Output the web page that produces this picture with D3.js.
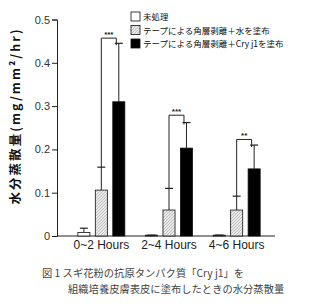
<!DOCTYPE html>
<html>
<head>
<meta charset="utf-8">
<script src="https://cdn.jsdelivr.net/npm/d3@7"></script>
<style>
  body { margin: 0; background: #fff; }
  svg { display: block; }
</style>
</head>
<body>
<svg id="chart" width="324" height="304"></svg>
<script>
const groups = ["0~2 Hours", "2~4 Hours", "4~6 Hours"];
const seriesNames = ["未処理", "テープによる角層剥離＋水を塗布", "テープによる角層剥離＋Cry j1を塗布"];
const untreated = [0.008, 0.002, 0.002];
const untreatedErr = [0.018, 0.002, 0.002];
const water = [0.106, 0.060, 0.060];
const waterErr = [0.159, 0.110, 0.092];
const cry = [0.310, 0.203, 0.155];
const cryErr = [0.445, 0.262, 0.210];
const sigLabels = ["***", "***", "**"];
const sigLevel = [0.457, 0.279, 0.223];
const yTicks = [0, 0.1, 0.2, 0.3, 0.4, 0.5];
const yLabel = "水分蒸散量(mg/mm²/hr)";
const caption = ["図 1 スギ花粉の抗原タンパク質「Cry j1」を", "組織培養皮膚表皮に塗布したときの水分蒸散量"];

const svg = d3.select("#chart");
const margin = { top: 19.5, left: 57, bottom: 236, right: 275 };

const y = d3.scaleLinear().domain([0, 0.5]).range([margin.bottom, margin.top]);
const x0 = d3.scaleBand().domain(groups).range([67.5, 270.5]);
const x1 = d3.scaleBand().domain([0, 1, 2]).range([-23.5, 23.5]).paddingInner(0.31);

const values = [untreated, water, cry];
const errs = [untreatedErr, waterErr, cryErr];
const fills = ["#fff", "url(#hatch)", "#000"];

// hatch pattern for the water bars
const defs = svg.append("defs");
const pat = defs.append("pattern")
  .attr("id", "hatch")
  .attr("patternUnits", "userSpaceOnUse")
  .attr("width", 3).attr("height", 3);
pat.append("rect").attr("width", 3).attr("height", 3).attr("fill", "#e8e8e8");
pat.append("path")
  .attr("d", "M-1,1 l2,-2 M0,3 l3,-3 M2,4 l2,-2")
  .attr("stroke", "#9a9a9a").attr("stroke-width", 0.5);

// y axis
const yAxis = svg.append("g")
  .attr("transform", `translate(${margin.left},0)`)
  .call(d3.axisLeft(y).tickValues(yTicks).tickSize(5).tickPadding(2)
    .tickFormat(d => d === 0 ? "0" : d3.format(".1f")(d)));
yAxis.select(".domain").attr("stroke", "#222");
yAxis.selectAll(".tick line").attr("stroke", "#222");
yAxis.selectAll("text")
  .attr("font-family", "Liberation Sans, Arial, sans-serif")
  .attr("font-size", 11).attr("fill", "#333");

// x axis baseline
svg.append("line")
  .attr("x1", margin.left).attr("x2", margin.right)
  .attr("y1", y(0)).attr("y2", y(0))
  .attr("stroke", "#222");

svg.append("g").selectAll("text")
  .data(groups)
  .join("text")
  .attr("x", d => x0(d) + x0.bandwidth() / 2)
  .attr("y", y(0) + 13)
  .attr("text-anchor", "middle")
  .attr("font-family", "Liberation Sans, Arial, sans-serif")
  .attr("font-size", 12)
  .attr("fill", "#222")
  .text(d => d);

// bars + error bars
groups.forEach((g, gi) => {
  const cx = x0(g) + x0.bandwidth() / 2;
  values.forEach((vals, si) => {
    const bx = cx + x1(si);
    const bw = x1.bandwidth();
    svg.append("line")
      .attr("x1", bx + bw / 2).attr("x2", bx + bw / 2)
      .attr("y1", y(vals[gi])).attr("y2", y(errs[si][gi]))
      .attr("stroke", "#222").attr("stroke-width", 1);
    svg.append("line")
      .attr("x1", bx + bw / 2 - 4).attr("x2", bx + bw / 2 + 4)
      .attr("y1", y(errs[si][gi])).attr("y2", y(errs[si][gi]))
      .attr("stroke", "#222").attr("stroke-width", 1.2);
    svg.append("rect")
      .attr("x", bx).attr("width", bw)
      .attr("y", y(vals[gi]))
      .attr("height", y(0) - y(vals[gi]))
      .attr("fill", fills[si])
      .attr("stroke", "#111").attr("stroke-width", 0.8);
  });

  // significance bracket between water and cry
  const lx = cx + x1(1) + x1.bandwidth() / 2;
  const rx = cx + x1(2) + x1.bandwidth() / 2 - 2.5;
  const by = y(sigLevel[gi]);
  svg.append("path")
    .attr("d", `M${lx},${y(waterErr[gi])}V${by}H${rx}V${y(cryErr[gi]) + 2}`)
    .attr("fill", "none").attr("stroke", "#222").attr("stroke-width", 1);
  svg.append("text")
    .attr("x", (lx + rx) / 2).attr("y", by - 1)
    .attr("text-anchor", "middle")
    .attr("font-family", "Liberation Sans, Arial, sans-serif")
    .attr("font-size", 8).attr("font-weight", "bold")
    .attr("fill", "#222")
    .text(sigLabels[gi]);
});

// y label
svg.append("text")
  .attr("transform", `translate(20,${(29 + 205) / 2}) rotate(-90)`)
  .attr("text-anchor", "middle")
  .attr("font-family", "Noto Sans CJK JP, sans-serif")
  .attr("font-size", 12.5).attr("font-weight", "bold")
  .attr("fill", "#111")
  .attr("textLength", 175).attr("lengthAdjust", "spacing")
  .text(yLabel);

// legend
const legend = svg.append("g");
seriesNames.forEach((name, i) => {
  const ly = 16.5 + i * 13.5;
  legend.append("rect")
    .attr("x", 131).attr("y", ly - 4.5)
    .attr("width", 9).attr("height", 9)
    .attr("fill", fills[i]).attr("stroke", "#111").attr("stroke-width", 0.8);
  legend.append("text")
    .attr("x", 143).attr("y", ly + 3.5)
    .attr("font-family", "Noto Sans CJK JP, sans-serif")
    .attr("font-size", 8.5).attr("fill", "#111")
    .text(name);
});

// caption
svg.append("g").selectAll("text")
  .data(caption)
  .join("text")
  .attr("x", (d, i) => i === 0 ? 42 : 68)
  .attr("y", (d, i) => 277 + i * 16)
  .attr("font-family", "Noto Sans CJK JP, sans-serif")
  .attr("font-size", 10.3).attr("fill", "#444")
  .text(d => d);
</script>
</body>
</html>
